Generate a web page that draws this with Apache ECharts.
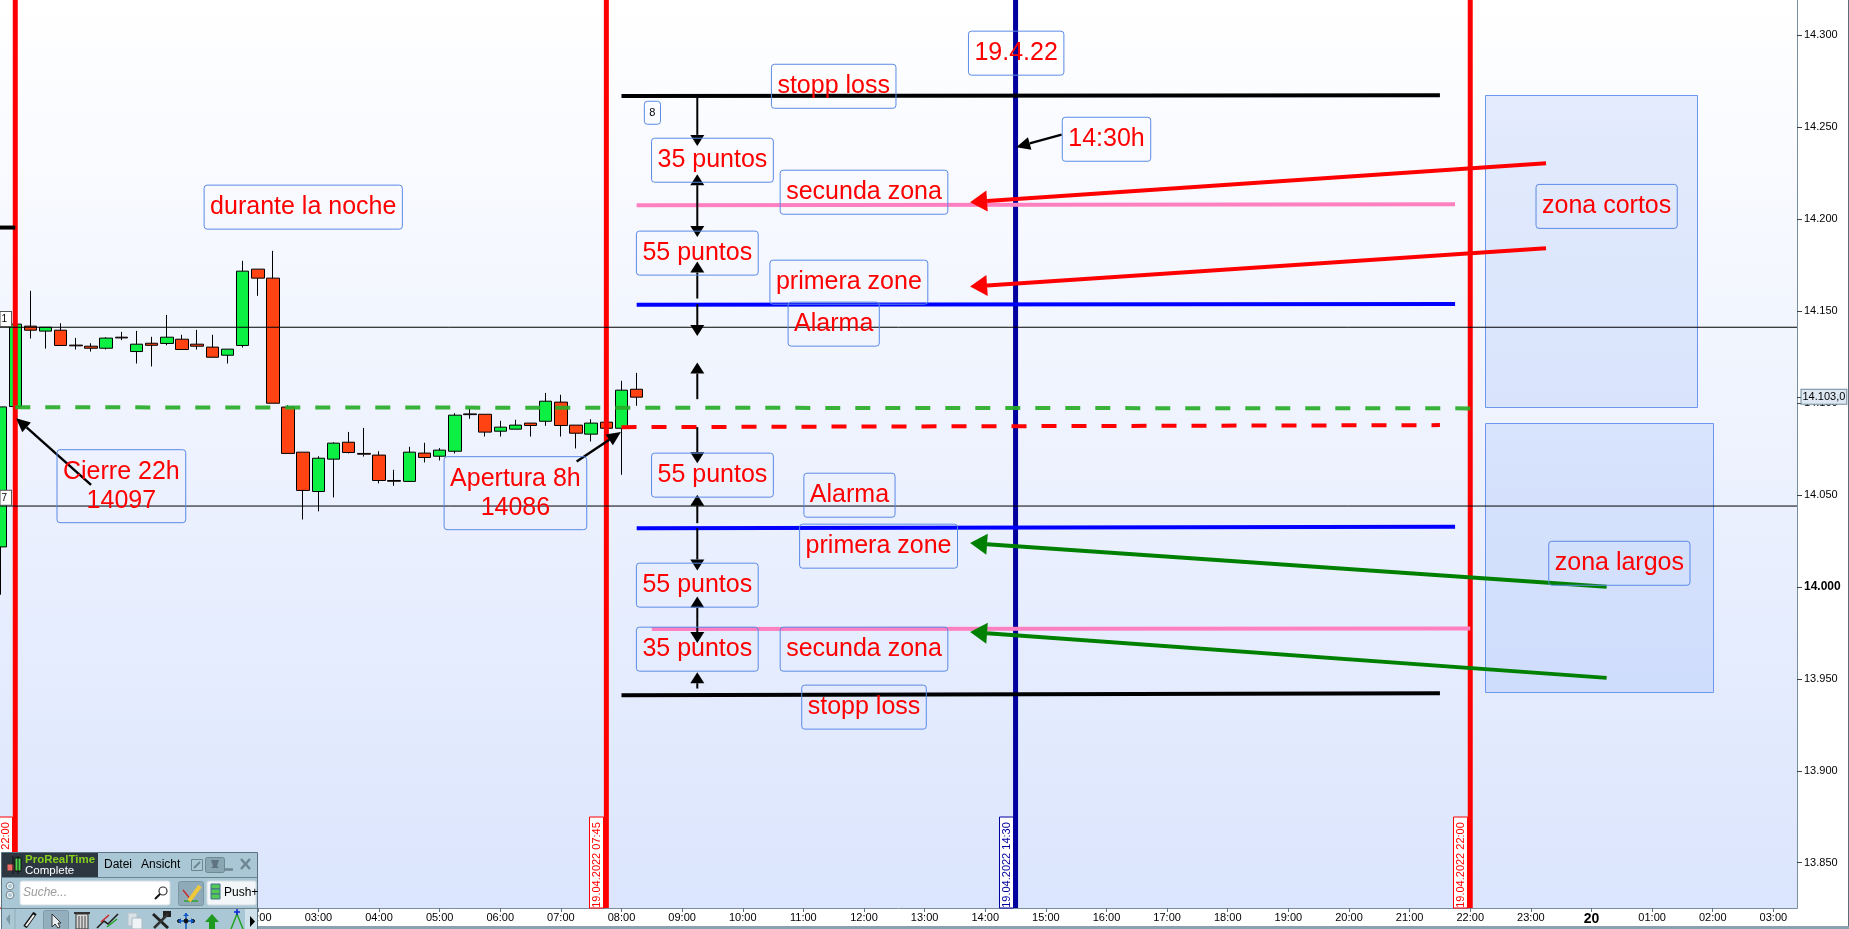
<!DOCTYPE html>
<html><head><meta charset="utf-8">
<style>html,body{margin:0;padding:0;background:#fff}#c{width:1849px;height:929px}</style>
<script src="https://cdn.jsdelivr.net/npm/echarts@6/dist/echarts.min.js"></script>
</head><body><div id="c"></div>
<script>
// ---------- data (time in hours from 19.04 00:00, price in points) ----------
const candleTimes  = [-2.24,-2,-1.75,-1.5,-1.25,-1,-0.75,-0.5,-0.25,0,0.25,0.5,0.75,1,1.25,1.5,1.75,2,2.25,2.5,2.75,3,3.25,3.5,3.75,4,4.25,4.5,4.75,5,5.25,5.5,5.75,6,6.25,6.5,6.75,7,7.25,7.5,7.75,8,8.25];
const candleOpens  = [14021.7,14098,14141.7,14139,14139.5,14131.4,14130.8,14129.7,14135.7,14127.9,14132.4,14132.3,14134.6,14131.9,14130.3,14125.9,14131.2,14172.7,14167.8,14097.7,14073.2,14051.8,14069.4,14078.6,14072.5,14071.6,14057.8,14057.3,14072.7,14071,14073.7,14094,14093.8,14084.6,14085.7,14089,14090,14100.4,14087.9,14083,14089.5,14086.2,14107.4];
const candleCloses = [14097.8,14142.8,14139.5,14141.1,14131.2,14131,14129.7,14135.2,14135.3,14131.9,14131.3,14135.7,14129,14130.8,14124.8,14129.2,14171.6,14167.8,14099.8,14072.5,14052.4,14069.9,14078.1,14073,14072.1,14057.8,14057.4,14073.2,14070.3,14074.3,14093.3,14093.6,14084.1,14086.8,14087.9,14087.7,14100.9,14087.7,14083.5,14089,14086.2,14106.9,14103.1];
const candleLows   = [13995.7,14098,14135,14129.5,14131.2,14129,14127.9,14129,14134.1,14121.4,14119.8,14131.3,14129,14129,14124.8,14121.4,14130.1,14158.2,14099.8,14072.5,14036.6,14041,14048.6,14072.5,14070.8,14056.2,14054.9,14057.3,14067.6,14068.7,14072.5,14091.3,14081.7,14081.7,14085.7,14081.7,14087.5,14081.7,14075.2,14079,14086.2,14060.9,14098.4];
const candleHighs  = [14097.8,14142.8,14160.9,14141.1,14143.3,14135.3,14132.4,14135.7,14138.6,14139.1,14135.9,14147.8,14137,14139.7,14137,14129.2,14177.2,14172.7,14182.6,14098.7,14073.2,14071,14078.6,14084.2,14086.4,14073.7,14063.6,14076.1,14078.3,14075.4,14094.4,14097.1,14093.8,14090.2,14090.8,14089,14105.4,14104.4,14087.9,14091.1,14089.5,14112,14116.3];

const stopLossUpper   = [[8,14266.8],[21.5,14267.2]];
const secondZoneUpper = [[8.25,14207.4],[21.75,14208]];
const firstZoneUpper  = [[8.25,14153.3],[21.75,14153.8]];
const closeLevel      = [[-2,14097.6],[22,14097]];
const openLevel       = [[8,14086.8],[21.5,14087.9]];
const firstZoneLower  = [[8.25,14031.9],[21.75,14032.6]];
const secondZoneLower = [[8.5,13977],[22,13977.4]];
const stopLossLower   = [[8,13941.1],[21.5,13942.1]];
const alarmHigh = 14141.1, alarmLow = 14043.9, priorLevel = 14195.3;
const sessionLines = [-2,7.75,22];
const newsLine = [14.5];
const sessionTagTexts = ["19.04.2022 22:00","19.04.2022 07:45","19.04.2022 22:00"];
const newsTagTexts = ["19.04.2022 14:30"];
const leftTagTexts = ["1","7"];
const leftTagPrices = [14145.6,14048.4];

const shortZone = [22.24,14267.2,25.74,14097.7];
const longZone  = [22.24,14089,26,13942.9];

// arrows as [tail time, tail price, tip time, tip price]
const measureArrows = [
 [9.25,14266.8,9.25,14239.7],[9.25,14207,9.25,14224.3],[9.25,14207,9.25,14190.1],
 [9.25,14156.7,9.25,14176.8],[9.25,14153.6,9.25,14136.3],[9.25,14102,9.25,14121.9],
 [9.25,14086.8,9.25,14067.2],[9.25,14034.6,9.25,14050],[9.25,14031.9,9.25,14008.9],
 [9.25,13982,9.25,13994.7],[9.25,13982,9.25,13969.4],[9.25,13944.7,9.25,13953.6]];
const calloutArrows = [[15.26,14245.8,14.51,14239],[-0.75,14055.4,-1.986,14091.7],[7.26,14068.1,7.99,14084.1]];
const shortArrows = [[23.25,14230.3,13.75,14209.1],[23.25,14184.1,13.75,14163.2]];
const longArrows  = [[24.25,14000,13.75,14023.8],[24.25,13950.5,13.75,13975.4]];

const noteTexts  = ["stopp loss","8","35 puntos","secunda zona","55 puntos","primera zone","Alarma","14:30h","19.4.22","durante la noche","Cierre 22h\n14097","Apertura 8h\n14086","55 puntos","Alarma","primera zone","55 puntos","35 puntos","secunda zona","stopp loss","zona cortos","zona largos"];
const noteTimes  = [11.5,8.51,9.5,12,9.25,11.75,11.5,16,14.51,2.75,-0.25,6.25,9.5,11.76,12.24,9.25,9.25,12,12,24.25,24.46];
const notePrices = [14272.1,14257.7,14231.9,14214.5,14181.4,14165.6,14142.8,14243.3,14290.1,14206.4,14054.7,14050.9,14060.7,14049.8,14022.1,14000.9,13966.1,13966.1,13934.6,14206.8,14012.8];

const hourTicks  = [0,1,2,3,4,5,6,7,8,9,10,11,12,13,14,15,16,17,18,19,20,21,22,23,24,25,26,27];
const hourLabels = ["19","01:00","02:00","03:00","04:00","05:00","06:00","07:00","08:00","09:00","10:00","11:00","12:00","13:00","14:00","15:00","16:00","17:00","18:00","19:00","20:00","21:00","22:00","23:00","20","01:00","02:00","03:00"];
const priceTicks  = [13850,13900,13950,14000,14050,14100,14150,14200,14250,14300];
const priceLabels = ["13.850","13.900","13.950","14.000","14.050","14.100","14.150","14.200","14.250","14.300"];
const lastPrice = 14103.3, lastPriceLabel = "14.103,0";
const timeMin = -2.252, timeMax = 27.39, priceMin = 13825.4, priceMax = 14319;

// ---------- drawing ----------
const FONT = '"Liberation Sans", Arial, sans-serif';
const chart = echarts.init(document.getElementById('c'), null, {renderer:'canvas', width:1849, height:929});

function level(data, color, width, z, dash){
  return {type:'line', data, z, showSymbol:false, symbol:'none', silent:true, animation:false, clip:true,
    lineStyle:{color, width, type:dash?[15,15]:'solid', cap:'butt'}, itemStyle:{color}};
}
function vertical(times, color){
  return {type:'custom', z:3, silent:true, clip:true, animation:false, data:times.map(t=>[t]), encode:{x:0},
    renderItem(p, api){
      const top = api.coord([api.value(0), priceMax]), bot = api.coord([api.value(0), priceMin]);
      return {type:'line', shape:{x1:top[0],y1:top[1],x2:bot[0],y2:bot[1]}, style:{stroke:color,lineWidth:5}};
    }};
}
function tags(times, texts, color){
  return {type:'custom', z:8, silent:true, clip:false, animation:false, data:times.map((t,i)=>[t,i]), encode:{x:0},
    renderItem(p, api){
      const c = api.coord([api.value(0), priceMin]), i = api.value(1);
      return {type:'group', children:[
        {type:'rect', shape:{x:Math.round(c[0])-16.5,y:c[1]-91,width:14,height:91}, style:{fill:'#fff',stroke:color,lineWidth:1}},
        {type:'text', x:Math.round(c[0])-9, y:c[1]-43, rotation:Math.PI/2,
          style:{text:texts[i], fill:color, font:'11px '+FONT, align:'center', verticalAlign:'middle'}}
      ]};
    }};
}
function arrows(data, color, lw, headLen, headW, z){
  return {type:'custom', z, silent:true, clip:false, animation:false, data, encode:{x:[0,2],y:[1,3]},
    renderItem(p, api){
      const a = api.coord([api.value(0),api.value(1)]), b = api.coord([api.value(2),api.value(3)]);
      const dx=b[0]-a[0], dy=b[1]-a[1], L=Math.hypot(dx,dy)||1, ux=dx/L, uy=dy/L;
      const bx=b[0]-ux*headLen, by=b[1]-uy*headLen;
      return {type:'group', children:[
        {type:'line', shape:{x1:a[0],y1:a[1],x2:bx,y2:by}, style:{stroke:color,lineWidth:lw}},
        {type:'polygon', shape:{points:[[b[0],b[1]],[bx-uy*headW/2,by+ux*headW/2],[bx+uy*headW/2,by-ux*headW/2]]}, style:{fill:color}}
      ]};
    }};
}
function zone(box){
  return {type:'custom', z:1, silent:true, clip:true, animation:false, data:[box], encode:{x:[0,2],y:[1,3]},
    renderItem(p, api){
      const a = api.coord([api.value(0),api.value(1)]), b = api.coord([api.value(2),api.value(3)]);
      return {type:'rect', shape:{x:Math.round(a[0])+.5,y:Math.round(a[1])+.5,width:Math.round(b[0]-a[0]),height:Math.round(b[1]-a[1])},
        style:{fill:'rgba(70,120,240,0.13)',stroke:'#6d97ee',lineWidth:1}};
    }};
}

const hiddenPoint = {color:'transparent',opacity:1};
const noteLabel = {show:true, position:'inside', color:'#ff0000', fontFamily:FONT, fontSize:25, lineHeight:29,
  padding:[6,6,9,6], borderColor:'#5b8ae6', borderWidth:1, borderRadius:3, align:'center', verticalAlign:'middle'};
const notesData = noteTexts.map((t,i)=>{
  const d = {value:[noteTimes[i],notePrices[i]], name:t};
  if(t==='8') d.label={fontSize:11,lineHeight:11,color:'#000',padding:[6,5,6,5],formatter:t};
  return d;
});
const leftTagsData = leftTagPrices.map((p,i)=>({value:[timeMin,p],name:leftTagTexts[i]}));

const option = {
  animation:false,
  backgroundColor:'#ffffff',
  textStyle:{fontFamily:FONT},
  grid:{left:0,right:52,top:0,bottom:21,containLabel:false,show:true,borderWidth:0,
    backgroundColor:new echarts.graphic.LinearGradient(0,0,0,1,[{offset:0,color:'#ffffff'},{offset:1,color:'#dbe5fd'}])},
  xAxis:{type:'value',min:timeMin,max:timeMax,splitLine:{show:false},
    axisLine:{onZero:false,lineStyle:{color:'#7a8f9e',width:1}},
    axisTick:{show:true,length:4,customValues:hourTicks,lineStyle:{color:'#5f7380'}},
    axisLabel:{margin:4,color:'#000',fontSize:11,fontFamily:FONT,customValues:hourTicks,hideOverlap:false,
      formatter:v=>{const l=hourLabels[hourTicks.indexOf(v)];return l.length===2?'{b|'+l+'}':l;},
      rich:{b:{fontSize:14,fontWeight:'bold',color:'#000',fontFamily:FONT}}}},
  yAxis:{type:'value',position:'right',min:priceMin,max:priceMax,scale:true,splitLine:{show:false},
    axisLine:{show:true,onZero:false,lineStyle:{color:'#7a8f9e',width:1}},
    axisTick:{show:true,length:5,customValues:priceTicks.concat([lastPrice]),lineStyle:{color:'#33434d'}},
    axisLabel:{margin:7,color:'#000',fontSize:11,fontFamily:FONT,customValues:priceTicks,
      formatter:v=>{const l=priceLabels[priceTicks.indexOf(v)];return v===14000?'{b|'+l+'}':l;},
      rich:{b:{fontSize:12,fontWeight:'bold',color:'#000',fontFamily:FONT}}}},
  series:[
    zone(shortZone), zone(longZone),
    {type:'candlestick',z:2,silent:true,barWidth:13,clip:true,animation:false,
      data:candleTimes.map((t,i)=>[t,candleOpens[i],candleCloses[i],candleLows[i],candleHighs[i]]),
      encode:{x:0,y:[1,2,3,4]},
      itemStyle:{color:'#0cf044',color0:'#ff4312',borderColor:'#000',borderColor0:'#000',borderColorDoji:'#000',borderWidth:1}},
    vertical(sessionLines,'#ff0000'), vertical(newsLine,'#00009e'),
    level([[timeMin,priorLevel],[-2,priorLevel]],'#000',4,4),
    level([[timeMin,alarmHigh],[timeMax,alarmHigh]],'#000',1,4),
    level([[timeMin,alarmLow],[timeMax,alarmLow]],'#000',1,4),
    level(stopLossUpper,'#000',4,5), level(stopLossLower,'#000',4,5),
    level(secondZoneUpper,'#ff80c0',4,5), level(secondZoneLower,'#ff80c0',4,5),
    level(firstZoneUpper,'#0000ff',4,5), level(firstZoneLower,'#0000ff',4,5),
    level(closeLevel,'rgba(40,172,40,0.92)',4,5,true), level(openLevel,'#ff0000',4,5,true),
    arrows(measureArrows,'#000',2,11,14,6),
    arrows(calloutArrows,'#000',2.4,14,13,6),
    arrows(shortArrows,'#ff0000',4,17,21,6),
    arrows(longArrows,'#008000',4,17,21,6),
    {type:'scatter',z:7,silent:true,animation:false,clip:false,symbolSize:1,itemStyle:hiddenPoint,
      data:notesData,label:Object.assign({formatter:p=>p.name},noteLabel),labelLayout:{hideOverlap:false}},
    {type:'scatter',z:7,silent:true,animation:false,clip:false,symbolSize:1,itemStyle:hiddenPoint,
      data:leftTagsData,
      label:{show:true,position:'right',distance:0,formatter:p=>p.name,color:'#000',fontSize:10,fontFamily:FONT,
        backgroundColor:'#fff',borderColor:'#555',borderWidth:1,padding:[2,4,2,1]}},
    {type:'scatter',z:9,silent:true,animation:false,clip:false,symbolSize:1,itemStyle:hiddenPoint,
      data:[[timeMax,lastPrice]],
      label:{show:true,position:'right',distance:4,formatter:lastPriceLabel,color:'#000',fontSize:11,fontFamily:FONT,
        backgroundColor:'#dde8f3',borderColor:'#70899a',borderWidth:1,padding:[2,1,1,1]}},
    tags(sessionLines,sessionTagTexts,'#ff0000'), tags(newsLine,newsTagTexts,'#00009e')
  ],
  graphic:{elements:frameAndToolbar()}
};
chart.setOption(option);

function frameAndToolbar(){
  const Z=50, e=[];
  const rect=(x,y,w,h,fill,stroke,r)=>e.push({type:'rect',z:Z,silent:true,shape:{x,y,width:w,height:h,r:r||0},style:{fill,stroke:stroke||null,lineWidth:1}});
  const txt=(x,y,text,font,fill)=>e.push({type:'text',z:Z+1,silent:true,x,y,style:{text,font:font+' '+FONT,fill,verticalAlign:'middle'}});
  const line=(x1,y1,x2,y2,stroke,w)=>e.push({type:'line',z:Z+1,silent:true,shape:{x1,y1,x2,y2},style:{stroke,lineWidth:w||1}});
  const poly=(pts,fill,stroke)=>e.push({type:'polygon',z:Z+1,silent:true,shape:{points:pts},style:{fill,stroke:stroke||null}});
  const pline=(pts,stroke,w)=>e.push({type:'polyline',z:Z+1,silent:true,shape:{points:pts},style:{stroke,lineWidth:w||1,fill:null}});
  const circ=(cx,cy,r,fill,stroke,w)=>e.push({type:'circle',z:Z+1,silent:true,shape:{cx,cy,r},style:{fill,stroke,lineWidth:w||1}});
  // outer frame
  rect(1848,0,1,927,'#5c6f7b');
  rect(258,926,1591,3,'#8aa2b0');
  // toolbar panel
  rect(1.5,852.5,256,77,'#a9c7d5','#5d7280');
  rect(2,853,96,24,'#2c3742');
  line(2,877.5,257,877.5,'#6b8391');
  line(2,908.5,257,908.5,'#6b8391');
  line(13,856,13,874,'#111',1); line(18,856,18,874,'#111',1);
  rect(7,864,7,7,'#ef6a66','#333'); rect(15,858,6,13,'#4fd84f','#111');
  txt(25,860,'ProRealTime','bold 11.5px','#86d01e');
  txt(25,871,'Complete','11.5px','#ffffff');
  txt(104,865,'Datei','12px','#000');
  txt(141,865,'Ansicht','12px','#000');
  rect(191.5,859.5,11,11,null,'#6d8593');
  line(194,868,200,862,'#6d8593',2);
  rect(205.5,857.5,19,15,'#8ba6b3','#6f8896',2);
  poly([[211,860],[219,860],[217,866],[219,868],[211,868],[213,866]],'#5f7482');
  line(224,869.5,233,869.5,'#6f8795',2.5);
  line(241,859,250,869,'#6f8795',2.5); line(250,859,241,869,'#6f8795',2.5);
  circ(10,886,3,null,'#eef4f7',2); circ(10,895,3,null,'#eef4f7',2);
  circ(10,886,3.8,null,'#44525c',.7); circ(10,895,3.8,null,'#44525c',.7);
  rect(20,881,150,24,'#ffffff','#d4dfe5',2);
  txt(23,893,'Suche...','italic 12px','#9a9a9a');
  circ(163,891,4,'#fff','#333',1.2); line(160,894,155,899,'#111',2);
  rect(178.5,881.5,25,24,'#8ea9b7','#7b95a3',2);
  pline([[183,890],[192,901]],'#d02020',1.2); pline([[184,901],[198,901]],'#18a018',1.2);
  line(189,901,200,886,'#f0c93a',4);
  rect(207,881,49,24,'#f2f6f8','#d4dfe5',2);
  rect(211,884,9,5,'#55c855','#3f6f8f'); rect(211,889,9,5,'#55c855','#3f6f8f'); rect(211,894,9,5,'#55c855','#3f6f8f');
  txt(224,893,'Push+','12px','#000');
  // tool row
  poly([[6,919],[10,914],[10,925]],'#7f97a4');
  line(15,909,15,929,'#93adba',1);
  line(25,927,35,913,'#111',4); line(26,926,34,915,'#f4f4f4',2);
  rect(43.5,910.5,25,19,'#93aebc','#7f99a7',2);
  poly([[52,914],[52,927],[55,924],[58,928],[60,927],[58,923],[61,923]],'#e8eef1','#333');
  rect(76,914,12,15,'#d8d8d8','#333'); line(74,913,90,913,'#333',2);
  line(79,916,79,929,'#444'); line(82,916,82,929,'#444'); line(85,916,85,929,'#444');
  pline([[97,928],[104,921],[108,924],[118,914]],'#222',1.6); pline([[101,922],[109,915]],'#d02020',1.4); pline([[107,927],[117,919]],'#20a020',1.4);
  rect(128,913,9,13,'#d9e2e7','#b4c2ca'); rect(132,918,10,11,'#f0f4f6','#a9b8c0');
  line(153,914,168,928,'#222',3); line(168,914,154,928,'#333',2.5); rect(163,911,8,6,'#222');
  line(178,921,194,921,'#0e58c8',1.5); line(186,913,186,929,'#0e58c8',1.5);
  circ(186,921,2,'#111','#111'); circ(179,921,1.5,'#111','#111'); circ(193,921,1.5,'#111','#111');
  poly([[178,921],[181,918],[181,924]],'#0e58c8'); poly([[194,921],[191,918],[191,924]],'#0e58c8');
  poly([[186,913],[183,916],[189,916]],'#0e58c8');
  poly([[212,914],[205,922],[209,922],[209,929],[215,929],[215,922],[219,922]],'#1e9a1e');
  pline([[231,929],[237,914],[243,929]],'#24a324',1.5); line(237,909,237,915,'#0a24d8',1.5); line(234,912,240,912,'#0a24d8',1.5);
  rect(245,909,12,20,'#cfe2ec');
  poly([[250,916],[250,927],[255,921.5]],'#000');
  return e;
}
</script></body></html>
